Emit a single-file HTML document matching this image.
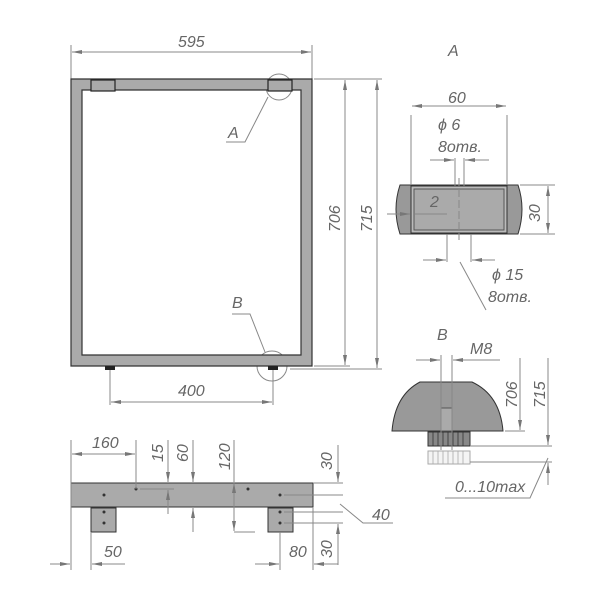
<!DOCTYPE html>
<html><head><meta charset="utf-8"><style>html,body{margin:0;padding:0;background:#fff}svg{display:block}
text{font-family:"Liberation Sans",sans-serif;font-style:italic;fill:#666;font-size:16px}</style></head>
<body>
<svg width="600" height="600" viewBox="0 0 600 600" xmlns="http://www.w3.org/2000/svg">
<defs>
<marker id="ar" viewBox="0 0 10 4" refX="10" refY="2" markerWidth="10" markerHeight="4" orient="auto-start-reverse" markerUnits="userSpaceOnUse"><path d="M0,0L10,2L0,4z" fill="#777"/></marker>
</defs>
<g stroke="#888" stroke-width="1" fill="none">
<line x1="71" y1="45" x2="71" y2="79"/><line x1="312" y1="45" x2="312" y2="79"/>
<line x1="72" y1="52" x2="311" y2="52" marker-start="url(#ar)" marker-end="url(#ar)"/>
<line x1="314" y1="79" x2="382" y2="79"/>
<line x1="314" y1="366" x2="350" y2="366"/><line x1="290" y1="369" x2="382" y2="369"/>
<line x1="345" y1="80" x2="345" y2="365" marker-start="url(#ar)" marker-end="url(#ar)"/>
<line x1="377" y1="80" x2="377" y2="368" marker-start="url(#ar)" marker-end="url(#ar)"/>
<line x1="110" y1="356" x2="110" y2="405"/><line x1="273" y1="356" x2="273" y2="405"/>
<line x1="111" y1="402" x2="272" y2="402" marker-start="url(#ar)" marker-end="url(#ar)"/>
<circle cx="279" cy="87" r="13"/><polyline points="226,142 245,142 268,97"/>
<circle cx="272" cy="366" r="15"/><polyline points="232,314 250,314 265,352"/>
</g>
<path d="M71,79H312V366H71Z M82,90V355H301V90Z" fill="#aaa" fill-rule="evenodd" stroke="#333" stroke-width="1.2"/>
<rect x="91" y="80" width="24" height="11" fill="#aaa" stroke="#222" stroke-width="1.2"/>
<rect x="268" y="80" width="24" height="11" fill="#aaa" stroke="#222" stroke-width="1.2"/>
<rect x="105" y="366" width="10" height="4" fill="#222"/><rect x="268" y="366" width="10" height="4" fill="#222"/>
<text x="178" y="47">595</text><text x="178" y="396">400</text>
<text x="228" y="138" font-size="19">A</text><text x="232" y="308" font-size="19">B</text>
<text transform="translate(340,232) rotate(-90)">706</text>
<text transform="translate(372,232) rotate(-90)">715</text>

<text x="448" y="56" font-size="19">A</text>
<path d="M400,185H518Q526,209 518,234H400Q392,209 400,185Z" fill="#999" stroke="#333"/>
<rect x="411" y="186" width="96" height="47" fill="#bbb" stroke="#333"/>
<rect x="414" y="189" width="90" height="41" fill="#aaa" stroke="#555"/>
<g stroke="#888" fill="none">
<line x1="411" y1="115" x2="411" y2="185"/><line x1="507" y1="115" x2="507" y2="185"/>
<line x1="412" y1="106" x2="506" y2="106" marker-start="url(#ar)" marker-end="url(#ar)"/>
<line x1="455" y1="158" x2="455" y2="186"/><line x1="464" y1="158" x2="464" y2="186"/>
<line x1="430" y1="160" x2="454" y2="160" marker-end="url(#ar)"/><line x1="489" y1="160" x2="465" y2="160" marker-end="url(#ar)"/>
<line x1="459" y1="178" x2="459" y2="240" stroke-dasharray="8,3"/>
<line x1="520" y1="185" x2="555" y2="185"/><line x1="520" y1="234" x2="555" y2="234"/>
<line x1="548" y1="186" x2="548" y2="233" marker-start="url(#ar)" marker-end="url(#ar)"/>
<line x1="387" y1="214" x2="410" y2="214" marker-end="url(#ar)"/><line x1="447" y1="214" x2="415" y2="214"/>
<line x1="447" y1="234" x2="447" y2="262"/><line x1="471" y1="234" x2="471" y2="262"/>
<line x1="423" y1="260" x2="446" y2="260" marker-end="url(#ar)"/><line x1="495" y1="260" x2="472" y2="260" marker-end="url(#ar)"/>
<line x1="460" y1="262" x2="486" y2="310"/>
</g>
<text x="448" y="103">60</text>
<text x="438" y="130">ϕ 6</text><text x="438" y="152">8отв.</text>
<text x="430" y="207" font-size="19">2</text>
<text transform="translate(540,222) rotate(-90)">30</text>
<text x="492" y="280">ϕ 15</text><text x="488" y="302">8отв.</text>

<text x="437" y="340" font-size="19">B</text><text x="470" y="354">M8</text>
<path d="M420,382H472Q500,395 503,431H392Q395,395 420,382Z" fill="#999" stroke="#333"/>
<rect x="441" y="408" width="11" height="23" fill="#aaa" stroke="#555"/>
<rect x="428" y="432" width="42" height="14" fill="#888" stroke="#333"/>
<g stroke="#333" stroke-width="0.8"><line x1="433" y1="432" x2="433" y2="446"/><line x1="438" y1="432" x2="438" y2="446"/><line x1="443" y1="432" x2="443" y2="446"/><line x1="448" y1="432" x2="448" y2="446"/><line x1="453" y1="432" x2="453" y2="446"/><line x1="458" y1="432" x2="458" y2="446"/><line x1="463" y1="432" x2="463" y2="446"/></g>
<rect x="428" y="451" width="42" height="13" fill="#f4f4f4" stroke="#aaa"/>
<g stroke="#aaa" stroke-width="0.8"><line x1="433" y1="451" x2="433" y2="464"/><line x1="438" y1="451" x2="438" y2="464"/><line x1="443" y1="451" x2="443" y2="464"/><line x1="448" y1="451" x2="448" y2="464"/><line x1="453" y1="451" x2="453" y2="464"/><line x1="458" y1="451" x2="458" y2="464"/><line x1="463" y1="451" x2="463" y2="464"/></g>
<g stroke="#888" fill="none">
<line x1="441" y1="355" x2="441" y2="450"/><line x1="452" y1="355" x2="452" y2="450"/>
<line x1="416" y1="360" x2="440" y2="360" marker-end="url(#ar)"/><line x1="500" y1="360" x2="453" y2="360" marker-end="url(#ar)"/>
<line x1="505" y1="431" x2="525" y2="431"/>
<line x1="520" y1="358" x2="520" y2="430" marker-end="url(#ar)"/>
<line x1="470" y1="446" x2="552" y2="446"/><line x1="470" y1="462" x2="552" y2="462"/>
<line x1="548" y1="358" x2="548" y2="445" marker-end="url(#ar)"/>
<line x1="548" y1="485" x2="548" y2="463" marker-end="url(#ar)"/>
<polyline points="445,498 530,498 548,458"/>
</g>
<text transform="translate(517,408) rotate(-90)">706</text>
<text transform="translate(545,408) rotate(-90)">715</text>
<text x="455" y="492">0...10max</text>

<rect x="71" y="483" width="242" height="24" fill="#aaa" stroke="#333"/>
<rect x="91" y="508" width="25" height="24" fill="#aaa" stroke="#333"/>
<rect x="268" y="508" width="25" height="24" fill="#aaa" stroke="#333"/>
<g fill="#333"><circle cx="104" cy="495" r="1.5"/><circle cx="136" cy="489" r="1.5"/><circle cx="248" cy="489" r="1.5"/><circle cx="280" cy="495" r="1.5"/>
<circle cx="104" cy="512" r="1.5"/><circle cx="104" cy="523" r="1.5"/><circle cx="280" cy="512" r="1.5"/><circle cx="280" cy="523" r="1.5"/></g>
<g stroke="#888" fill="none">
<line x1="71" y1="440" x2="71" y2="570"/><line x1="136" y1="440" x2="136" y2="489"/>
<line x1="72" y1="454" x2="135" y2="454" marker-start="url(#ar)" marker-end="url(#ar)"/>
<line x1="140" y1="489" x2="174" y2="489"/>
<line x1="168" y1="440" x2="168" y2="482" marker-end="url(#ar)"/><line x1="168" y1="514" x2="168" y2="490" marker-end="url(#ar)"/>
<line x1="193" y1="440" x2="193" y2="482" marker-end="url(#ar)"/><line x1="193" y1="532" x2="193" y2="508" marker-end="url(#ar)"/>
<line x1="234" y1="440" x2="234" y2="482"/><line x1="234" y1="483" x2="234" y2="531" marker-start="url(#ar)" marker-end="url(#ar)"/>
<line x1="234" y1="532" x2="255" y2="532"/>
<line x1="91" y1="532" x2="91" y2="570"/>
<line x1="50" y1="564" x2="70" y2="564" marker-end="url(#ar)"/><line x1="125" y1="564" x2="92" y2="564" marker-end="url(#ar)"/>
<line x1="280" y1="532" x2="280" y2="570"/><line x1="313" y1="507" x2="313" y2="570"/>
<line x1="255" y1="564" x2="279" y2="564" marker-end="url(#ar)"/><line x1="338" y1="564" x2="314" y2="564" marker-end="url(#ar)"/>
<line x1="284" y1="495" x2="343" y2="495"/><line x1="284" y1="512" x2="343" y2="512"/><line x1="284" y1="523" x2="343" y2="523"/>
<line x1="313" y1="483" x2="343" y2="483"/>
<line x1="338" y1="445" x2="338" y2="482" marker-end="url(#ar)"/>
<line x1="338" y1="565" x2="338" y2="524" marker-end="url(#ar)"/>
<polyline points="340,504 363,523 393,523"/>
</g>
<text x="92" y="448">160</text>
<text transform="translate(163,462) rotate(-90)">15</text>
<text transform="translate(188,462) rotate(-90)">60</text>
<text transform="translate(230,470) rotate(-90)">120</text>
<text transform="translate(332,470) rotate(-90)">30</text>
<text transform="translate(332,558) rotate(-90)">30</text>
<text x="372" y="520">40</text>
<text x="104" y="557">50</text><text x="289" y="557">80</text>
</svg>
</body></html>
